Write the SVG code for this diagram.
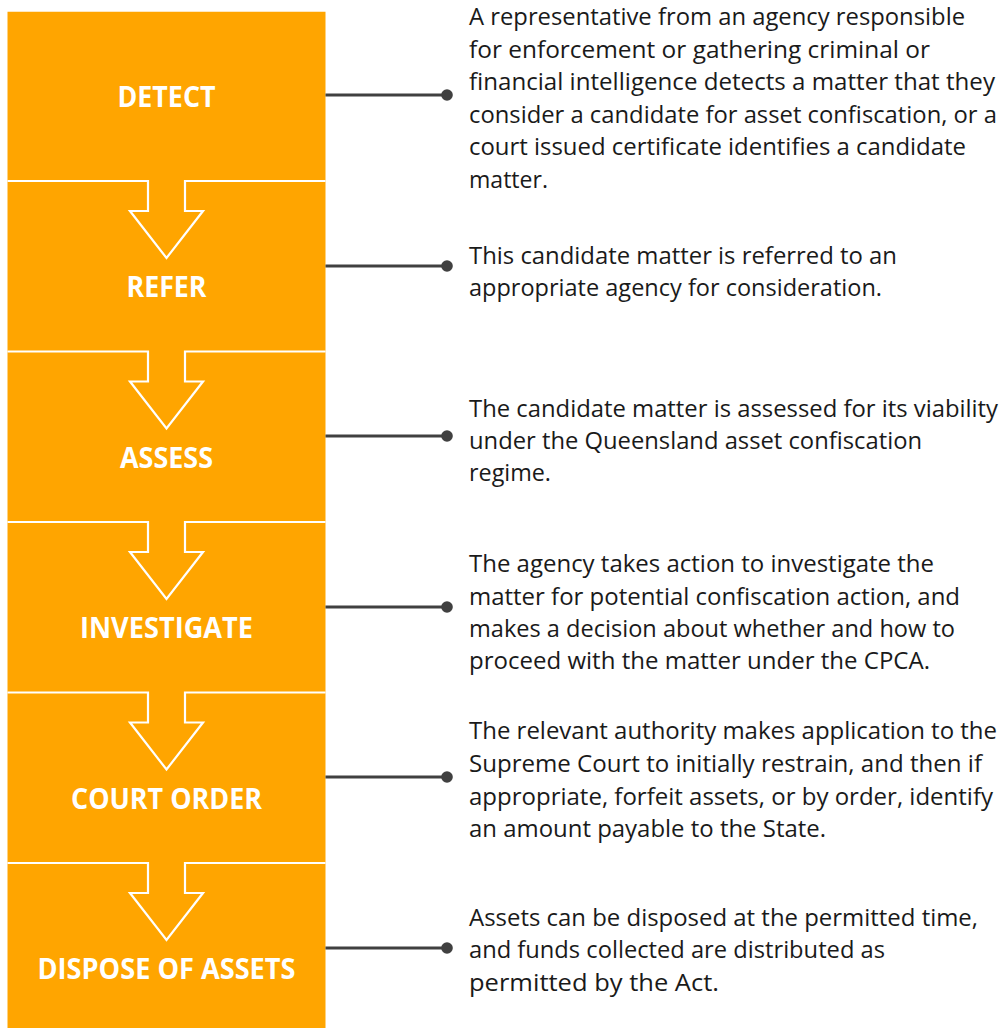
<svg xmlns="http://www.w3.org/2000/svg" width="1002" height="1028" viewBox="0 0 1002 1028">
  <style>
    .box { fill: #FFA500; }
    .sep { fill: none; stroke: #FFFFFF; stroke-width: 2.2; stroke-linejoin: miter; }
    .lbl { font-family: "Open Sans", "Liberation Sans", sans-serif; font-weight: 700; font-size: 28px; fill: #FFFFFF; text-anchor: middle; }
    .txt { font-family: "Open Sans", "Liberation Sans", sans-serif; font-size: 24px; fill: #1a1a1a; }
    .conn { stroke: #404040; stroke-width: 3; fill: none; }
  </style>
  <defs>
    <marker id="dot" markerUnits="userSpaceOnUse" markerWidth="14" markerHeight="14" refX="7" refY="7" viewBox="0 0 14 14">
      <circle cx="7" cy="7" r="5.8" fill="#404040"/>
    </marker>
  </defs>
  <rect width="1002" height="1028" fill="#FFFFFF"/>

  <g id="node-detect">
    <path class="box" d="M7.5,11.7 H325.5 V181 H185 V211 H203 L166.5,258 L130,211 H148 V181 H7.5 Z"/>
    <text class="lbl" x="166.5" y="107" textLength="98" lengthAdjust="spacingAndGlyphs">DETECT</text>
  </g>
  <g id="node-refer">
    <path class="box" d="M7.5,181 H148 V211 H130 L166.5,258 L203,211 H185 V181 H325.5 V351.5 H185 V381.5 H203 L166.5,428.5 L130,381.5 H148 V351.5 H7.5 Z"/>
    <path class="sep" d="M7.5,181 H148 V211 H130 L166.5,258 L203,211 H185 V181 H325.5"/>
    <text class="lbl" x="166.5" y="297" textLength="80" lengthAdjust="spacingAndGlyphs">REFER</text>
  </g>
  <g id="node-assess">
    <path class="box" d="M7.5,351.5 H148 V381.5 H130 L166.5,428.5 L203,381.5 H185 V351.5 H325.5 V522 H185 V552 H203 L166.5,599 L130,552 H148 V522 H7.5 Z"/>
    <path class="sep" d="M7.5,351.5 H148 V381.5 H130 L166.5,428.5 L203,381.5 H185 V351.5 H325.5"/>
    <text class="lbl" x="166.5" y="467.5" textLength="93" lengthAdjust="spacingAndGlyphs">ASSESS</text>
  </g>
  <g id="node-investigate">
    <path class="box" d="M7.5,522 H148 V552 H130 L166.5,599 L203,552 H185 V522 H325.5 V692.5 H185 V722.5 H203 L166.5,769.5 L130,722.5 H148 V692.5 H7.5 Z"/>
    <path class="sep" d="M7.5,522 H148 V552 H130 L166.5,599 L203,552 H185 V522 H325.5"/>
    <text class="lbl" x="166.5" y="638" textLength="173" lengthAdjust="spacingAndGlyphs">INVESTIGATE</text>
  </g>
  <g id="node-court-order">
    <path class="box" d="M7.5,692.5 H148 V722.5 H130 L166.5,769.5 L203,722.5 H185 V692.5 H325.5 V863 H185 V893 H203 L166.5,940 L130,893 H148 V863 H7.5 Z"/>
    <path class="sep" d="M7.5,692.5 H148 V722.5 H130 L166.5,769.5 L203,722.5 H185 V692.5 H325.5"/>
    <text class="lbl" x="166.5" y="808.5" textLength="191" lengthAdjust="spacingAndGlyphs">COURT ORDER</text>
  </g>
  <g id="node-dispose">
    <path class="box" d="M7.5,863 H148 V893 H130 L166.5,940 L203,893 H185 V863 H325.5 V1028 H7.5 Z"/>
    <path class="sep" d="M7.5,863 H148 V893 H130 L166.5,940 L203,893 H185 V863 H325.5"/>
    <text class="lbl" x="166.5" y="979" textLength="258" lengthAdjust="spacingAndGlyphs">DISPOSE OF ASSETS</text>
  </g>

  <g id="connectors">
    <line class="conn" x1="325.5" y1="95" x2="447" y2="95" marker-end="url(#dot)"/>
    <line class="conn" x1="325.5" y1="266" x2="447" y2="266" marker-end="url(#dot)"/>
    <line class="conn" x1="325.5" y1="436" x2="447" y2="436" marker-end="url(#dot)"/>
    <line class="conn" x1="325.5" y1="607" x2="447" y2="607" marker-end="url(#dot)"/>
    <line class="conn" x1="325.5" y1="777" x2="447" y2="777" marker-end="url(#dot)"/>
    <line class="conn" x1="325.5" y1="948" x2="447" y2="948" marker-end="url(#dot)"/>
  </g>

  <g id="desc-detect" class="txt">
    <text x="469" y="25" textLength="496" lengthAdjust="spacingAndGlyphs">A representative from an agency responsible</text>
    <text x="469" y="57.5" textLength="461" lengthAdjust="spacingAndGlyphs">for enforcement or gathering criminal or</text>
    <text x="469" y="90" textLength="526" lengthAdjust="spacingAndGlyphs">financial intelligence detects a matter that they</text>
    <text x="469" y="122.5" textLength="528" lengthAdjust="spacingAndGlyphs">consider a candidate for asset confiscation, or a</text>
    <text x="469" y="155" textLength="497" lengthAdjust="spacingAndGlyphs">court issued certificate identifies a candidate</text>
    <text x="469" y="187.5" textLength="79" lengthAdjust="spacingAndGlyphs">matter.</text>
  </g>
  <g id="desc-refer" class="txt">
    <text x="469" y="264" textLength="428" lengthAdjust="spacingAndGlyphs">This candidate matter is referred to an</text>
    <text x="469" y="296" textLength="413" lengthAdjust="spacingAndGlyphs">appropriate agency for consideration.</text>
  </g>
  <g id="desc-assess" class="txt">
    <text x="469" y="417" textLength="529" lengthAdjust="spacingAndGlyphs">The candidate matter is assessed for its viability</text>
    <text x="469" y="449" textLength="453" lengthAdjust="spacingAndGlyphs">under the Queensland asset confiscation</text>
    <text x="469" y="481" textLength="82" lengthAdjust="spacingAndGlyphs">regime.</text>
  </g>
  <g id="desc-investigate" class="txt">
    <text x="469" y="572" textLength="465" lengthAdjust="spacingAndGlyphs">The agency takes action to investigate the</text>
    <text x="469" y="605" textLength="491" lengthAdjust="spacingAndGlyphs">matter for potential confiscation action, and</text>
    <text x="469" y="637" textLength="486" lengthAdjust="spacingAndGlyphs">makes a decision about whether and how to</text>
    <text x="469" y="669" textLength="461" lengthAdjust="spacingAndGlyphs">proceed with the matter under the CPCA.</text>
  </g>
  <g id="desc-court-order" class="txt">
    <text x="469" y="739" textLength="528" lengthAdjust="spacingAndGlyphs">The relevant authority makes application to the</text>
    <text x="469" y="772" textLength="513" lengthAdjust="spacingAndGlyphs">Supreme Court to initially restrain, and then if</text>
    <text x="469" y="805" textLength="524" lengthAdjust="spacingAndGlyphs">appropriate, forfeit assets, or by order, identify</text>
    <text x="469" y="837" textLength="357" lengthAdjust="spacingAndGlyphs">an amount payable to the State.</text>
  </g>
  <g id="desc-dispose" class="txt">
    <text x="469" y="926" textLength="509" lengthAdjust="spacingAndGlyphs">Assets can be disposed at the permitted time,</text>
    <text x="469" y="958" textLength="416" lengthAdjust="spacingAndGlyphs">and funds collected are distributed as</text>
    <text x="469" y="991" textLength="250" lengthAdjust="spacingAndGlyphs">permitted by the Act.</text>
  </g>
</svg>
